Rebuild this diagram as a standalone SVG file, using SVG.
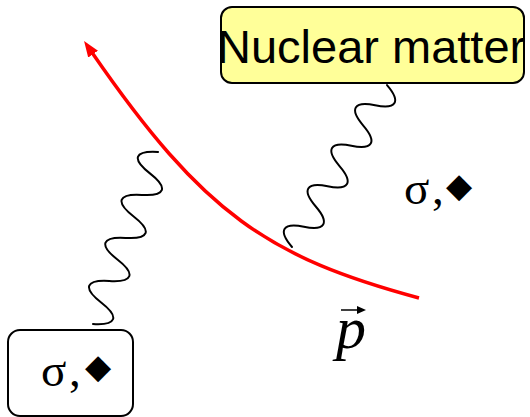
<svg xmlns="http://www.w3.org/2000/svg" width="530" height="417" viewBox="0 0 530 417">
<defs>
<style>
.box{stroke:#000;stroke-width:2}
.wave{fill:none;stroke:#000;stroke-width:2;stroke-linecap:round}
.sym{font-family:"Liberation Serif","Times New Roman",serif;font-size:47px;fill:#000}
.dia{font-family:"DejaVu Sans",sans-serif;font-size:34px;fill:#000}
</style>
<marker id="ah" markerUnits="userSpaceOnUse" markerWidth="16" markerHeight="12" viewBox="0 0 16 12" refX="2" refY="6" orient="auto">
<path d="M0,0 L16,6 L0,12 z" fill="#f00"/>
</marker>
</defs>
<rect width="530" height="417" fill="#fff"/>
<g id="nuclear-matter">
<rect class="box" x="221" y="7" width="303" height="76" rx="11" fill="#ffff99"/>
<text x="217" y="63" font-family="'Liberation Sans',Arial,sans-serif" font-size="47">Nuclear matter</text>
</g>
<g id="meson-box">
<rect class="box" x="8" y="330" width="125" height="86" rx="12" fill="#fff"/>
<text class="sym" x="41" y="386">σ<tspan x="69">,</tspan></text>
<text class="dia" x="98" y="378" text-anchor="middle">◆</text>
</g>
<g id="meson-label">
<text class="sym" x="404" y="204">σ<tspan x="432">,</tspan></text>
<text class="dia" x="459" y="196.5" text-anchor="middle">◆</text>
</g>
<g id="momentum-label">
<text x="336" y="348" font-family="'Liberation Serif','Times New Roman',serif" font-style="italic" font-size="60">p</text>
<line x1="341" y1="310" x2="361" y2="310" stroke="#000" stroke-width="1.5"/>
<path d="M357,306 L366,310 L357,314 z" fill="#000"/>
</g>
<g id="connectors">
<path id="proton" d="M419,298 C269,257.5 204,215 92,52.5" fill="none" stroke="#f00" stroke-width="3.5" marker-end="url(#ah)"/>
<path id="wave-left" class="wave" transform="translate(93,324) rotate(-69.3)" d="M0,0 c7,22.7 16,22.7 23,0 c7,-22.7 16,-22.7 23,0 c7,22.7 16,22.7 23,0 c7,-22.7 16,-22.7 23,0 c7,22.7 16,22.7 23,0 c7,-22.7 16,-22.7 23,0 c7,22.7 16,22.7 23,0 c7,-22.7 16,-22.7 23,0"/>
<path id="wave-right" class="wave" transform="translate(292,247) rotate(-59.6)" d="M0,0 c7.1,-20.7 16.37,-20.7 23.47,0 c7.1,20.7 16.37,20.7 23.47,0 c7.1,-20.7 16.37,-20.7 23.47,0 c7.1,20.7 16.37,20.7 23.47,0 c7.1,-20.7 16.37,-20.7 23.47,0 c7.1,20.7 16.37,20.7 23.47,0 c7.1,-20.7 16.37,-20.7 23.47,0 c7.1,20.7 16.37,20.7 23.47,0"/>
</g>
</svg>
